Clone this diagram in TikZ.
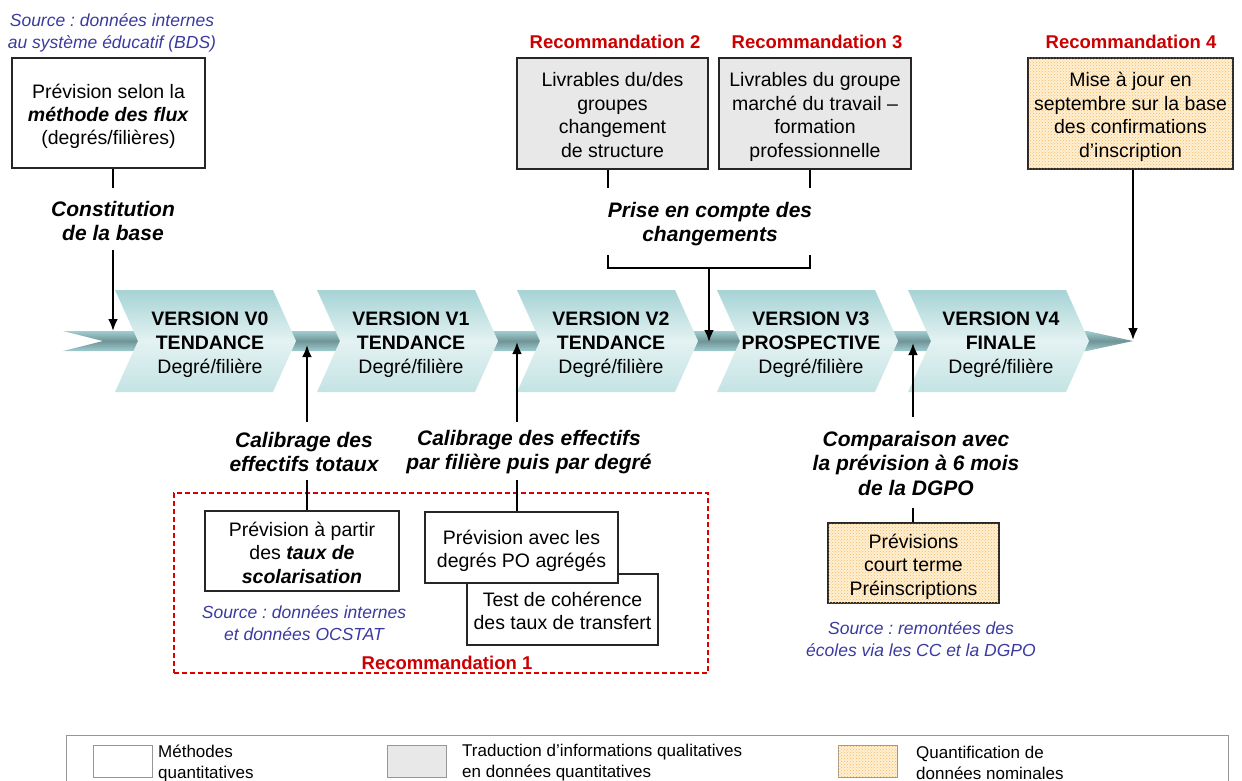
\documentclass[tikz,border=0pt]{standalone}
\usepackage{fontspec}
\setmainfont{Liberation Sans}
\usetikzlibrary{arrows.meta,patterns}
\frenchspacing
\definecolor{srcblue}{RGB}{58,58,160}
\definecolor{recred}{RGB}{204,0,0}
\definecolor{boxgray}{RGB}{232,232,232}
\definecolor{cream}{RGB}{255,240,210}
\definecolor{dotor}{RGB}{246,186,104}
\definecolor{tealtop}{RGB}{166,211,213}
\definecolor{tealmid}{RGB}{228,242,242}
\definecolor{tealbot}{RGB}{196,227,228}
\definecolor{bandlight}{RGB}{160,205,208}
\definecolor{banddark}{RGB}{112,148,151}
\definecolor{legline}{RGB}{150,150,150}
\newcommand{\fsBox}{\fontsize{19.5}{23.5}\selectfont}
\newcommand{\fsLab}{\fontsize{21}{24.5}\selectfont\bfseries\itshape}
\newcommand{\fsSrc}{\fontsize{17.5}{21.5}\selectfont\itshape}
\newcommand{\fsRec}{\fontsize{18.5}{22}\selectfont\bfseries}
\newcommand{\fsLeg}{\fontsize{17}{21}\selectfont}
\newcommand{\fsVer}{\fontsize{19.5}{24}\selectfont}
\newcommand{\topstr}{\rule{0pt}{22pt}}
\newcommand{\botstr}{\rule[-5pt]{0pt}{5pt}}
\newcommand{\chevshape}[1]{\shade[chevshade] (#1,290) -- ++(158,0) -- ++(23,51) -- ++(-23,51) -- ++(-158,0) -- ++(23,-51) -- cycle;}
\tikzset{
  boxq/.style={draw=black!85, line width=1.3pt, fill=white, inner sep=0pt, align=center, font=\fsBox},
  boxg/.style={boxq, fill=boxgray},
  boxo/.style={boxq, fill=cream, postaction={pattern=crosshatch dots, pattern color=dotor}},
  lab/.style={align=center, font=\fsLab, inner sep=0pt},
  src/.style={align=center, font=\fsSrc, text=srcblue, inner sep=0pt},
  rec/.style={font=\fsRec, text=recred, inner sep=0pt},
  vtext/.style={align=center, font=\fsVer, inner sep=0pt},
  conn/.style={line width=2.4pt, black},
  arr/.style={conn, -{Latex[length=12pt,width=10pt]}},
  chevshade/.style={top color=tealtop, bottom color=tealbot, middle color=tealmid},
  bandshade/.style={top color=bandlight, bottom color=bandlight, middle color=banddark},
  zone/.style={draw=red!85!black, dashed, dash pattern=on 5pt off 3pt, line width=1.2pt, inner sep=0pt},
  swatch/.style={draw=legline, line width=1pt, inner sep=0pt, minimum width=59pt, minimum height=32pt},
  legtxt/.style={align=left, font=\fsLeg, inner sep=0pt, anchor=west}
}
\begin{document}
\begin{tikzpicture}[x=1pt,y=-1pt]
\path[use as bounding box] (0,0) rectangle (1242,781);
\clip (0,0) rectangle (1242,781);
% band and chevrons
\shade[bandshade] (63,331) -- (1087,331) -- (1133,341) -- (1087,351) -- (63,351) -- (103,341) -- cycle;
\chevshape{115}
\chevshape{317}
\chevshape{517}
\chevshape{717}
\chevshape{908}
\node[vtext] (v0) at (210,345) {\textbf{VERSION V0}\\\textbf{TENDANCE}\\Degré/filière};
\node[vtext] (v1) at (411,345) {\textbf{VERSION V1}\\\textbf{TENDANCE}\\Degré/filière};
\node[vtext] (v2) at (611,345) {\textbf{VERSION V2}\\\textbf{TENDANCE}\\Degré/filière};
\node[vtext] (v3) at (811,345) {\textbf{VERSION V3}\\\textbf{PROSPECTIVE}\\Degré/filière};
\node[vtext] (v4) at (1001,345) {\textbf{VERSION V4}\\\textbf{FINALE}\\Degré/filière};
% top left
\node[src] (srcA) at (112,33) {Source : données internes\\au système éducatif (BDS)};
\node[boxq, minimum width=193pt, minimum height=110pt] (boxA) at (108.5,113) {\topstr Prévision selon la\\\textbf{\textit{méthode des flux}}\\(degrés/filières)\botstr};
\node[lab] (labA) at (113,221) {Constitution\\de la base};
\coordinate (a1) at (113,188);
\draw[conn] (a1 |- boxA.south) -- (a1);
\coordinate (a2) at (113,250);
\coordinate (tA) at (113,331);
\draw[arr] (a2) -- (tA);
% recommendations 2 and 3
\node[rec] (r2) at (615,42) {Recommandation 2};
\node[rec] (r3) at (817,42) {Recommandation 3};
\node[boxg, minimum width=191pt, minimum height=111pt] (boxB) at (612.5,113.5) {\topstr Livrables du/des\\groupes\\changement\\de structure\botstr};
\node[boxg, minimum width=192pt, minimum height=111pt] (boxC) at (815,113.5) {\topstr Livrables du groupe\\marché du travail –\\formation\\professionnelle\botstr};
\node[lab] (labB) at (710,224) {Prise en compte des\\changements};
\coordinate (b1) at (608,188);
\coordinate (c1) at (810,188);
\draw[conn] (b1 |- boxB.south) -- (b1);
\draw[conn] (c1 |- boxC.south) -- (c1);
\coordinate (b2) at (608,255);
\coordinate (b3) at (608,268);
\coordinate (c2) at (810,255);
\coordinate (c3) at (810,268);
\draw[conn] (b2) -- (b3) -- (c3) -- (c2);
\coordinate (m1) at (709,268);
\coordinate (tB) at (709,342);
\draw[arr] (m1) -- (tB);
% recommendation 4
\node[rec] (r4) at (1131,42) {Recommandation 4};
\node[boxo, minimum width=205pt, minimum height=111pt] (boxD) at (1130.5,113.5) {\topstr Mise à jour en\\septembre sur la base\\des confirmations\\d’inscription\botstr};
\coordinate (tD) at (1133,340);
\draw[arr] (tD |- boxD.south) -- (tD);
% calibrage totals
\node[lab] (labC) at (304,452) {Calibrage des\\effectifs totaux};
\coordinate (d1) at (307,422);
\coordinate (tC) at (307,345);
\draw[arr] (d1) -- (tC);
\node[zone, minimum width=534pt, minimum height=180pt] (zone1) at (441,583) {};
\node[boxq, minimum width=194pt, minimum height=80pt] (boxE) at (302,551) {\topstr Prévision à partir\\des \textbf{\textit{taux de}}\\\textbf{\textit{scolarisation}}\botstr};
\coordinate (d2) at (307,480);
\draw[conn] (d2) -- (d2 |- boxE.north);
\node[src] (srcE) at (304,623) {Source : données internes\\et données OCSTAT};
% calibrage filiere
\node[lab] (labF) at (529,452) {Calibrage des effectifs\\par filière puis par degré};
\coordinate (e1) at (517,422);
\coordinate (tE) at (517,342);
\draw[arr] (e1) -- (tE);
\node[boxq, minimum width=191pt, minimum height=71pt] (boxG) at (562.5,609.5) {\topstr Test de cohérence\\des taux de transfert\botstr};
\node[boxq, minimum width=193pt, minimum height=71pt] (boxF) at (521.5,547.5) {\topstr Prévision avec les\\degrés PO agrégés\botstr};
\coordinate (e2) at (517,480);
\draw[conn] (e2) -- (e2 |- boxF.north);
\node[rec] (r1) at (447,663) {Recommandation 1};
% comparaison
\node[lab] (labH) at (916,463) {Comparaison avec\\la prévision à 6 mois\\de la DGPO};
\coordinate (f1) at (913,417);
\coordinate (tF) at (913,343);
\draw[arr] (f1) -- (tF);
\node[boxo, minimum width=171pt, minimum height=80pt] (boxH) at (913.5,563) {\topstr Prévisions\\court terme\\Préinscriptions\botstr};
\coordinate (f2) at (913,508);
\draw[conn] (f2) -- (f2 |- boxH.north);
\node[src] (srcH) at (921,639) {Source : remontées des\\écoles via les CC et la DGPO};
% legend
\draw[draw=legline, line width=1pt] (66,735) rectangle (1228,800);
\node[swatch, fill=white] (sw1) at (122.5,761) {};
\node[swatch, fill=boxgray] (sw2) at (416.5,761) {};
\node[swatch, fill=cream, postaction={pattern=crosshatch dots, pattern color=dotor}] (sw3) at (867.5,761) {};
\node[legtxt] (lt1) at (158,763) {Méthodes\\quantitatives};
\node[legtxt] (lt2) at (462,763) {Traduction d’informations qualitatives\\en données quantitatives};
\node[legtxt] (lt3) at (916,763) {Quantification de\\données nominales};
\end{tikzpicture}
\end{document}
